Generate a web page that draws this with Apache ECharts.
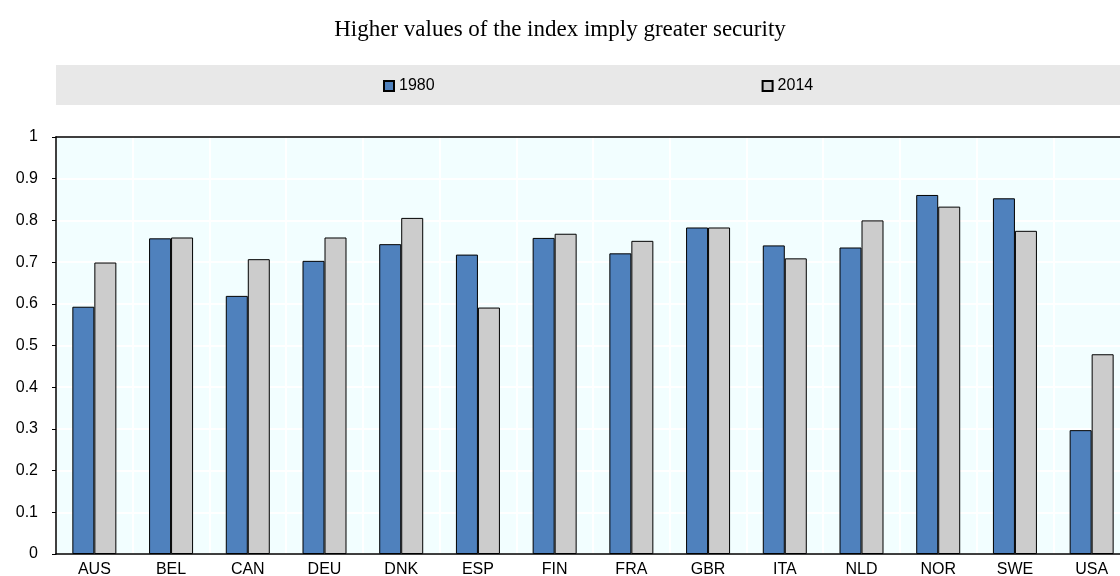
<!DOCTYPE html>
<html>
<head>
<meta charset="utf-8">
<script src="https://cdn.jsdelivr.net/npm/echarts@6/dist/echarts.min.js"></script>
<style>
    html, body { margin: 0; padding: 0; background: #fff; }
    #chart { width: 1120px; height: 576px; }
</style>
</head>
<body>
<div id="chart"></div>
<script>
// 数据
var countries = ['AUS', 'BEL', 'CAN', 'DEU', 'DNK', 'ESP', 'FIN', 'FRA', 'GBR', 'ITA', 'NLD', 'NOR', 'SWE', 'USA'];
var values1980 = [0.593, 0.757, 0.619, 0.703, 0.743, 0.718, 0.758, 0.721, 0.783, 0.740, 0.735, 0.861, 0.853, 0.297];
var values2014 = [0.699, 0.759, 0.707, 0.759, 0.806, 0.591, 0.768, 0.751, 0.783, 0.709, 0.800, 0.833, 0.775, 0.479];
var seriesNames = ['1980', '2014'];

var myChart = echarts.init(document.getElementById('chart'));

var labelFont = {
    color: '#000',
    fontFamily: '"Liberation Sans", Arial, sans-serif',
    fontSize: 16
};

var option = {
    animation: false,
    title: {
        text: 'Higher values of the index imply greater security',
        left: 'center',
        top: 13,
        textStyle: {
            color: '#000',
            fontFamily: '"Liberation Serif", "Times New Roman", serif',
            fontSize: 23,
            fontWeight: 'normal'
        }
    },
    // 图例背景条
    graphic: [{
        type: 'rect',
        left: 56,
        top: 65,
        z: -1,
        shape: { width: 1064, height: 40 },
        style: { fill: '#E8E8E8' }
    }],
    legend: {
        data: seriesNames,
        left: 383,
        top: 78,
        padding: 0,
        itemWidth: 10,
        itemHeight: 10,
        itemGap: 327,
        icon: 'rect',
        textStyle: labelFont
    },
    grid: {
        left: 56,
        width: 1074,
        top: 137,
        bottom: 22,
        outerBoundsMode: 'none',
        containLabel: false,
        show: true,
        backgroundColor: '#F2FEFF',
        borderWidth: 0
    },
    xAxis: [{
        type: 'category',
        data: countries,
        axisLine: { lineStyle: { color: '#000', width: 1.5 } },
        axisTick: { inside: true, length: 6, lineStyle: { color: '#000', width: 1.5 } },
        splitLine: { show: true, lineStyle: { color: '#fff', width: 2 } },
        axisLabel: Object.assign({ margin: 8 }, labelFont)
    }, {
        // 顶部边框线
        type: 'category',
        position: 'top',
        data: countries,
        axisLine: { lineStyle: { color: '#000', width: 1.5 } },
        axisTick: { show: false },
        axisLabel: { show: false }
    }],
    yAxis: {
        type: 'value',
        min: 0,
        max: 1,
        interval: 0.1,
        axisLine: { show: true, lineStyle: { color: '#000', width: 1.5 } },
        axisTick: { show: true, length: 4, lineStyle: { color: '#000', width: 1 } },
        splitLine: { lineStyle: { color: '#fff', width: 2 } },
        axisLabel: Object.assign({ margin: 18 }, labelFont)
    },
    series: [{
        name: seriesNames[0],
        type: 'bar',
        data: values1980,
        barWidth: 22,
        barGap: '0%',
        itemStyle: { color: '#4F81BD', borderColor: '#000', borderWidth: 1 }
    }, {
        name: seriesNames[1],
        type: 'bar',
        data: values2014,
        barWidth: 22,
        barGap: '0%',
        itemStyle: { color: '#CCCCCC', borderColor: '#000', borderWidth: 1 }
    }]
};

myChart.setOption(option);
</script>
</body>
</html>
